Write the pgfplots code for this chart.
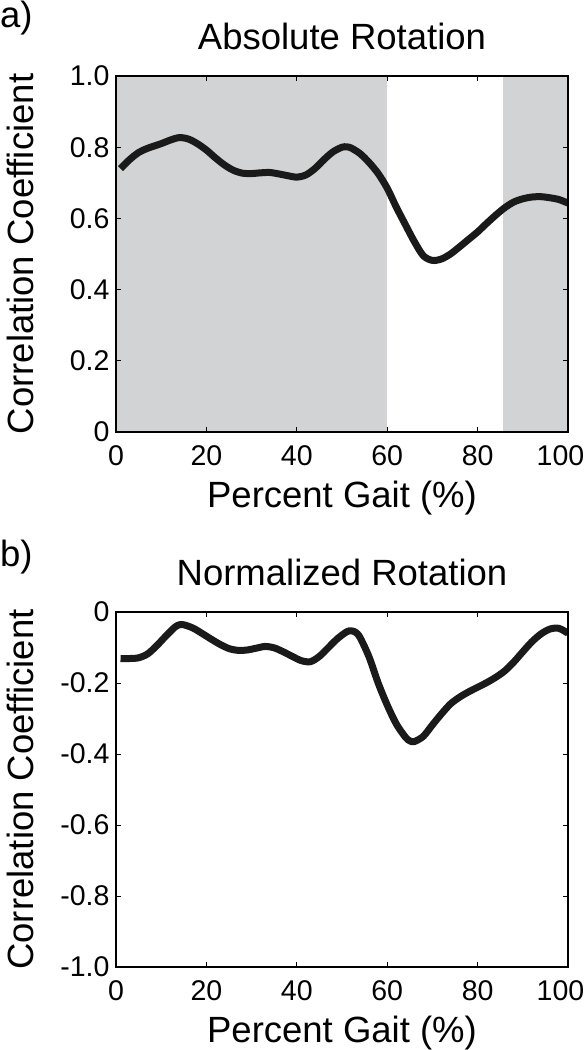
\documentclass[border=0pt]{standalone}
\usepackage{pgfplots}
\pgfplotsset{compat=1.18}
\usepackage{fontspec}
\setmainfont{Liberation Sans}
\definecolor{shade}{RGB}{209,211,212}
\definecolor{curve}{RGB}{26,26,26}
\pgfplotsset{
  myax/.style={
    scale only axis, width=452pt, height=355pt,
    xmin=0, xmax=100,
    axis line style={line width=1.1pt, black},
    tick style={line width=1.0pt, black},
    major tick length=5pt,
    tick align=inside,
    xtick={0,20,40,60,80,100},
    xticklabels={0,20,40,60,80,\hspace*{-15pt}100},
    tick label style={font=\fontsize{28.5}{30}\selectfont},
    /pgf/number format/assume math mode=true,
    xticklabel style={yshift=-10pt},
    yticklabel style={xshift=-3pt},
    title style={font=\fontsize{36.5}{40}\selectfont, at={(axis description cs:0.5,1)}, anchor=base, yshift=21pt},
    xlabel style={font=\fontsize{36.5}{40}\selectfont, at={(axis description cs:0.5,0)}, anchor=base, yshift=-75pt},
    ylabel style={font=\fontsize{36.5}{40}\selectfont, at={(axis description cs:-0.212,0.5)}, anchor=center, rotate=0},
    axis on top,
  }
}
\begin{document}
\begin{tikzpicture}
\useasboundingbox (0pt,0pt) rectangle (585pt,-1050pt);
\node[anchor=base west, font=\fontsize{36.5}{40}\selectfont, inner sep=0pt] at (0pt,-27pt) {a)};
\node[anchor=base west, font=\fontsize{36.5}{40}\selectfont, inner sep=0pt] at (0pt,-566pt) {b)};
\begin{axis}[myax, at={(116pt,-432pt)}, anchor=south west, height=356pt,
  ymin=0, ymax=1,
  ytick={0,0.2,0.4,0.6,0.8,1.0},
  yticklabels={0,0.2,0.4,0.6,0.8,1.0},
  title={Absolute Rotation},
  xlabel={Percent Gait (\%)},
  ylabel={Correlation Coefficient}]
\addplot[fill=shade, draw=none] coordinates {(0,0) (0,1) (60,1) (60,0)} -- cycle;
\addplot[fill=shade, draw=none] coordinates {(85.6,0) (85.6,1) (100,1) (100,0)} -- cycle;
\addplot[curve, line width=7pt, smooth, tension=0.5] coordinates {
(1,0.740) (3,0.765) (5,0.785) (7,0.797) (10,0.810) (12,0.820) (14,0.827) (16,0.823) (18,0.810)
(20,0.792) (22,0.770) (24,0.750) (26,0.735) (28,0.727) (30,0.726) (32,0.728) (34,0.729) (36,0.725)
(38,0.720) (40,0.716) (42,0.722) (44,0.740) (46,0.765) (48,0.787) (50,0.800) (51,0.801) (52,0.798)
(54,0.782) (56,0.757) (58,0.726) (60,0.685) (62,0.632) (64,0.583) (66,0.535) (68,0.495) (70,0.482)
(72,0.486) (74,0.500) (76,0.520) (78,0.541) (80,0.562) (82,0.586) (84,0.609) (86,0.630) (88,0.646)
(90,0.655) (92,0.660) (94,0.661) (96,0.658) (98,0.653) (100,0.643)};
\end{axis}
\begin{axis}[myax, at={(116pt,-967pt)}, anchor=south west,
  ymin=-1, ymax=0,
  ytick={-1,-0.8,-0.6,-0.4,-0.2,0},
  yticklabels={-1.0,-0.8,-0.6,-0.4,-0.2,0},
  title={Normalized Rotation},
  xlabel={Percent Gait (\%)},
  ylabel={Correlation Coefficient}]
\addplot[curve, line width=7pt, smooth, tension=0.5] coordinates {
(1,-0.131) (3,-0.131) (5,-0.129) (7,-0.118) (9,-0.095) (11,-0.068) (13,-0.043) (14,-0.036) (15,-0.036)
(17,-0.045) (19,-0.060) (21,-0.076) (23,-0.091) (25,-0.103) (27,-0.108) (29,-0.107) (31,-0.102)
(33,-0.097) (35,-0.101) (37,-0.112) (39,-0.125) (41,-0.137) (43,-0.140) (45,-0.125) (47,-0.100)
(49,-0.075) (51,-0.056) (52,-0.053) (53,-0.057) (54,-0.072) (56,-0.127) (58,-0.200) (60,-0.262)
(62,-0.315) (64,-0.352) (65,-0.363) (66,-0.365) (68,-0.350) (70,-0.318) (72,-0.287) (74,-0.259)
(76,-0.240) (78,-0.225) (80,-0.212) (82,-0.199) (84,-0.184) (86,-0.166) (88,-0.141) (90,-0.112)
(92,-0.084) (94,-0.062) (96,-0.048) (98,-0.046) (100,-0.060)};
\end{axis}
\end{tikzpicture}
\end{document}
